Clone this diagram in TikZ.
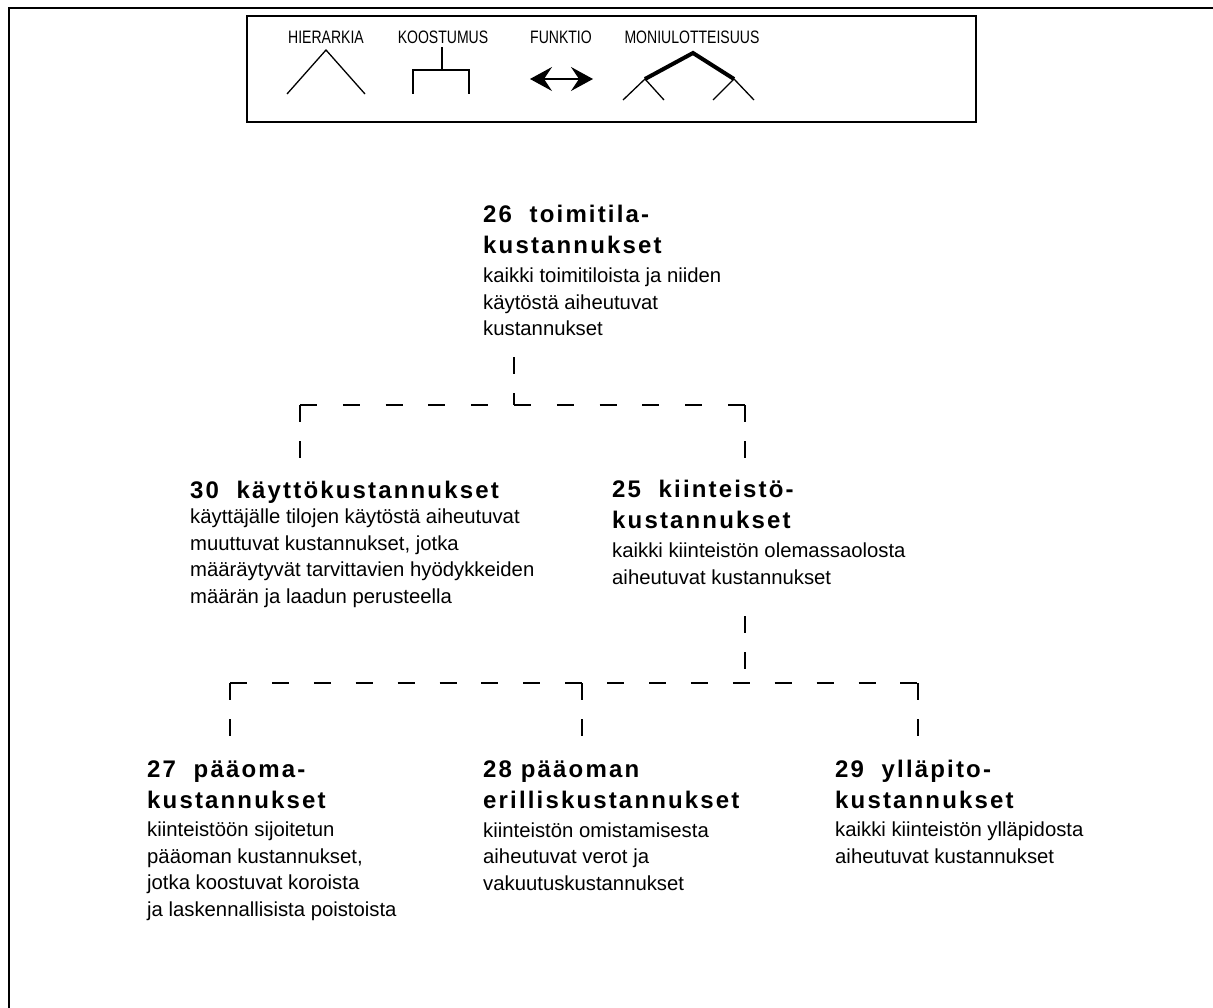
\documentclass[tikz,border=0pt]{standalone}
\usepackage{fontspec}
\setmainfont{Liberation Sans}
\newfontfamily\headfont{Liberation Sans}[LetterSpace=9]
\usetikzlibrary{arrows.meta}
\newcommand{\legtext}[1]{\scalebox{0.78}[1]{#1}}
\tikzset{
  head/.style={font=\headfont\bfseries\fontsize{24}{31}\selectfont, align=left, inner sep=0pt, anchor=base west},
  body/.style={font=\fontsize{20.3}{26.5}\selectfont, align=left, inner sep=0pt, anchor=base west},
  leglabel/.style={font=\fontsize{18}{20}\selectfont, inner sep=0pt},
  legline/.style={line width=1.3pt},
  dashv/.style={line width=1.5pt, dash pattern=on 17pt off 19pt},
  dashh/.style={line width=1.5pt, dash pattern=on 17pt off 25pt},
}
\begin{document}
\begin{tikzpicture}[x=1pt,y=-1pt]
\useasboundingbox[fill=white] (0,0) rectangle (1213,1008);
% outer frame (cut by the page at right and bottom)
\draw[line width=2pt] (9,1008) -- (9,8) -- (1213,8);
% legend
\draw[line width=2pt] (247,16) rectangle (976,122);
\node[leglabel] (lh) at (326,37) {\legtext{HIERARKIA}};
\node[leglabel] (lk) at (443,37) {\legtext{KOOSTUMUS}};
\node[leglabel] (lf) at (561,37) {\legtext{FUNKTIO}};
\node[leglabel] (lm) at (692,37) {\legtext{MONIULOTTEISUUS}};
\draw[legline] (287,94) -- (326,50) -- (365,94);
\draw[legline] (442,47) -- (442,70);
\draw[legline] (413,94) -- (413,70) -- (469,70) -- (469,94);
\draw[legline, {Stealth[length=22pt,width=24pt,inset=8pt]}-{Stealth[length=22pt,width=24pt,inset=8pt]}] (530,79) -- (593,79);
\draw[line width=4pt, line join=miter] (645,79) -- (693,53) -- (734,79);
\draw[legline] (623,100) -- (645,79) -- (664,100);
\draw[legline] (713,100) -- (734,79) -- (754,100);
% nodes (anchor = baseline of the last line)
\node[head] (h26) at (483,254) {26~~toimitila-\\kustannukset};
\node[body] (b26) at (483,336) {kaikki toimitiloista ja niiden\\käytöstä aiheutuvat\\kustannukset};
\node[head] (h30) at (190,498) {30~~käyttökustannukset};
\node[body] (b30) at (190,603) {käyttäjälle tilojen käytöstä aiheutuvat\\muuttuvat kustannukset, jotka\\määräytyvät tarvittavien hyödykkeiden\\määrän ja laadun perusteella};
\node[head] (h25) at (612,528) {25~~kiinteistö-\\kustannukset};
\node[body] (b25) at (612,584) {kaikki kiinteistön olemassaolosta\\aiheutuvat kustannukset};
\node[head] (h27) at (147,808) {27~~pääoma-\\kustannukset};
\node[body] (b27) at (147,916) {kiinteistöön sijoitetun\\pääoman kustannukset,\\jotka koostuvat koroista\\ja laskennallisista poistoista};
\node[head] (h28) at (483,808) {28 pääoman\\erilliskustannukset};
\node[body] (b28) at (483,890) {kiinteistön omistamisesta\\aiheutuvat verot ja\\vakuutuskustannukset};
\node[head] (h29) at (835,808) {29~~ylläpito-\\kustannukset};
\node[body] (b29) at (835,863) {kaikki kiinteistön ylläpidosta\\aiheutuvat kustannukset};
% connector points
\coordinate (s26) at (514,357);
\coordinate (j1) at (514,405);
\coordinate (c30) at (300,405);
\coordinate (c25) at (745,405);
\coordinate (t30) at (300,458);
\coordinate (t25) at (745,458);
\coordinate (s25) at (745,616);
\coordinate (j2) at (745,683);
\coordinate (c27) at (230,683);
\coordinate (c28) at (582,683);
\coordinate (c29) at (918,683);
\coordinate (t27) at (230,738);
\coordinate (t28) at (582,738);
\coordinate (t29) at (918,738);
% level 1
\draw[dashv] (s26) -- (j1);
\draw[dashh, dash pattern=on 17pt off 25.8pt] (c30) -- (c25);
\draw[dashv] (c30) -- (t30);
\draw[dashv] (c25) -- (t25);
% level 2
\draw[dashv] (s25) -- (j2);
\draw[dashh, dash pattern=on 17pt off 24.9pt] (c27) -- (c29);
\draw[dashv] (c27) -- (t27);
\draw[dashv] (c28) -- (t28);
\draw[dashv] (c29) -- (t29);
\end{tikzpicture}
\end{document}
